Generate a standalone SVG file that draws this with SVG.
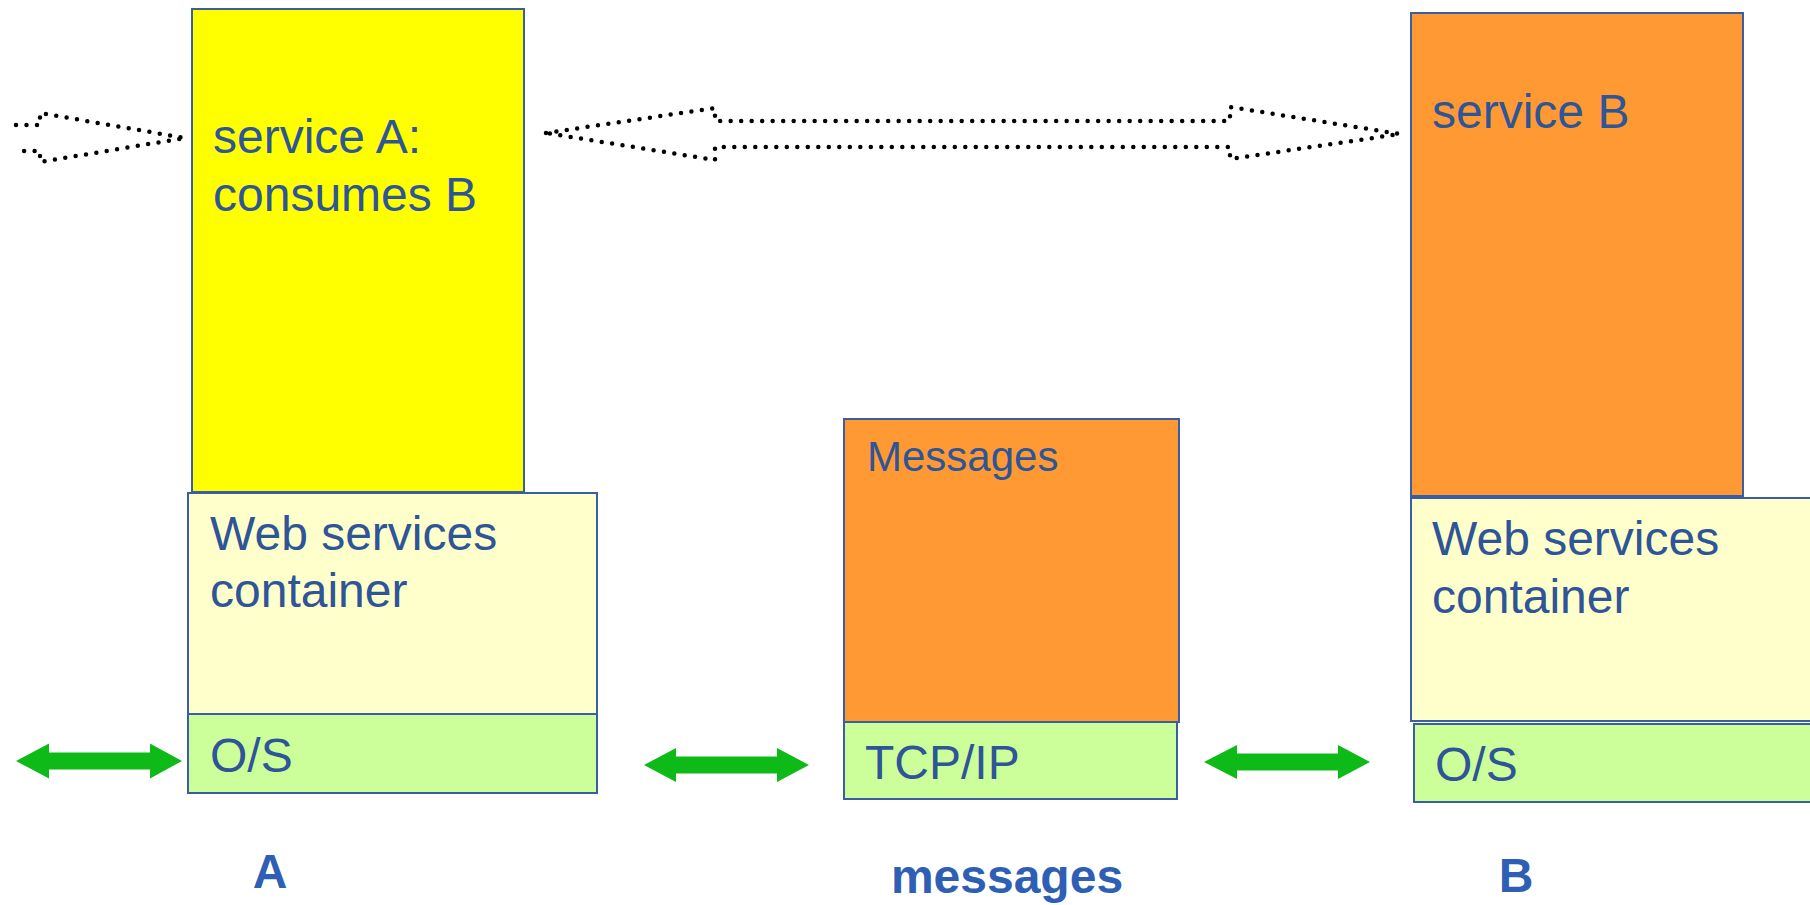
<svg xmlns="http://www.w3.org/2000/svg" width="1810" height="905" viewBox="0 0 1810 905">
<style>
.box{stroke:#3A5DA3;stroke-width:2}
.t{font-family:"Liberation Sans",Arial,sans-serif;font-size:48px;fill:#2E5597}
.lbl{font-family:"Liberation Sans",Arial,sans-serif;font-size:48px;font-weight:bold;fill:#2F5FB5;text-anchor:middle}
.dot{fill:none;stroke:#000;stroke-width:4.5;stroke-dasharray:0 10.5;stroke-linecap:round;stroke-linejoin:round}
.g{fill:#0DBA17}
</style>
<rect width="1810" height="905" fill="#fff"/>
<g id="connectors">
<path class="dot" d="M16,125 L40,125 L40,113 L185,138 L40,162 L40,151 L16,151"/>
<path class="dot" d="M546,133 L715,108 L715,121 L1230,121 L1230,107 L1400,134 L1230,159 L1230,147 L715,147 L715,160 Z"/>
<path class="g" d="M16,761 L49,743.5 L49,752.5 L150,752.5 L150,743.5 L182,761 L150,778.5 L150,769.5 L49,769.5 L49,778.5 Z"/>
<path class="g" d="M644,765 L676,748 L676,756.5 L777,756.5 L777,748 L809,765 L777,782 L777,773.5 L676,773.5 L676,782 Z"/>
<path class="g" d="M1204,762 L1237,745 L1237,753.5 L1338,753.5 L1338,745 L1370,762 L1338,779 L1338,770.5 L1237,770.5 L1237,779 Z"/>
</g>
<g id="serviceA">
<rect class="box" x="192" y="9" width="332" height="483" fill="#FFFF00"/>
<text class="t" x="213" y="153">service A:</text>
<text class="t" x="213" y="211">consumes B</text>
</g>
<g id="containerA">
<rect class="box" x="188" y="493" width="409" height="221" fill="#FFFFCC"/>
<text class="t" x="210" y="550">Web services</text>
<text class="t" x="210" y="607">container</text>
</g>
<g id="osA">
<rect class="box" x="188" y="714" width="409" height="79" fill="#CCFF99"/>
<text class="t" x="210" y="772">O/S</text>
</g>
<g id="messagesBox">
<rect class="box" x="844" y="419" width="335" height="303" fill="#FF9933"/>
<text class="t" x="867" y="471" style="font-size:42px">Messages</text>
</g>
<g id="tcpip">
<rect class="box" x="844" y="722" width="333" height="77" fill="#CCFF99"/>
<text class="t" x="865" y="779">TCP/IP</text>
</g>
<g id="serviceB">
<rect class="box" x="1411" y="13" width="332" height="483" fill="#FF9933"/>
<text class="t" x="1432" y="128">service B</text>
</g>
<g id="containerB">
<rect class="box" x="1411" y="498" width="420" height="223" fill="#FFFFCC"/>
<text class="t" x="1432" y="555">Web services</text>
<text class="t" x="1432" y="613">container</text>
</g>
<g id="osB">
<rect class="box" x="1414" y="724" width="420" height="78" fill="#CCFF99"/>
<text class="t" x="1435" y="781">O/S</text>
</g>
<g id="labels">
<text class="lbl" x="270" y="888">A</text>
<text class="lbl" x="1007" y="893">messages</text>
<text class="lbl" x="1516" y="892">B</text>
</g>
</svg>
